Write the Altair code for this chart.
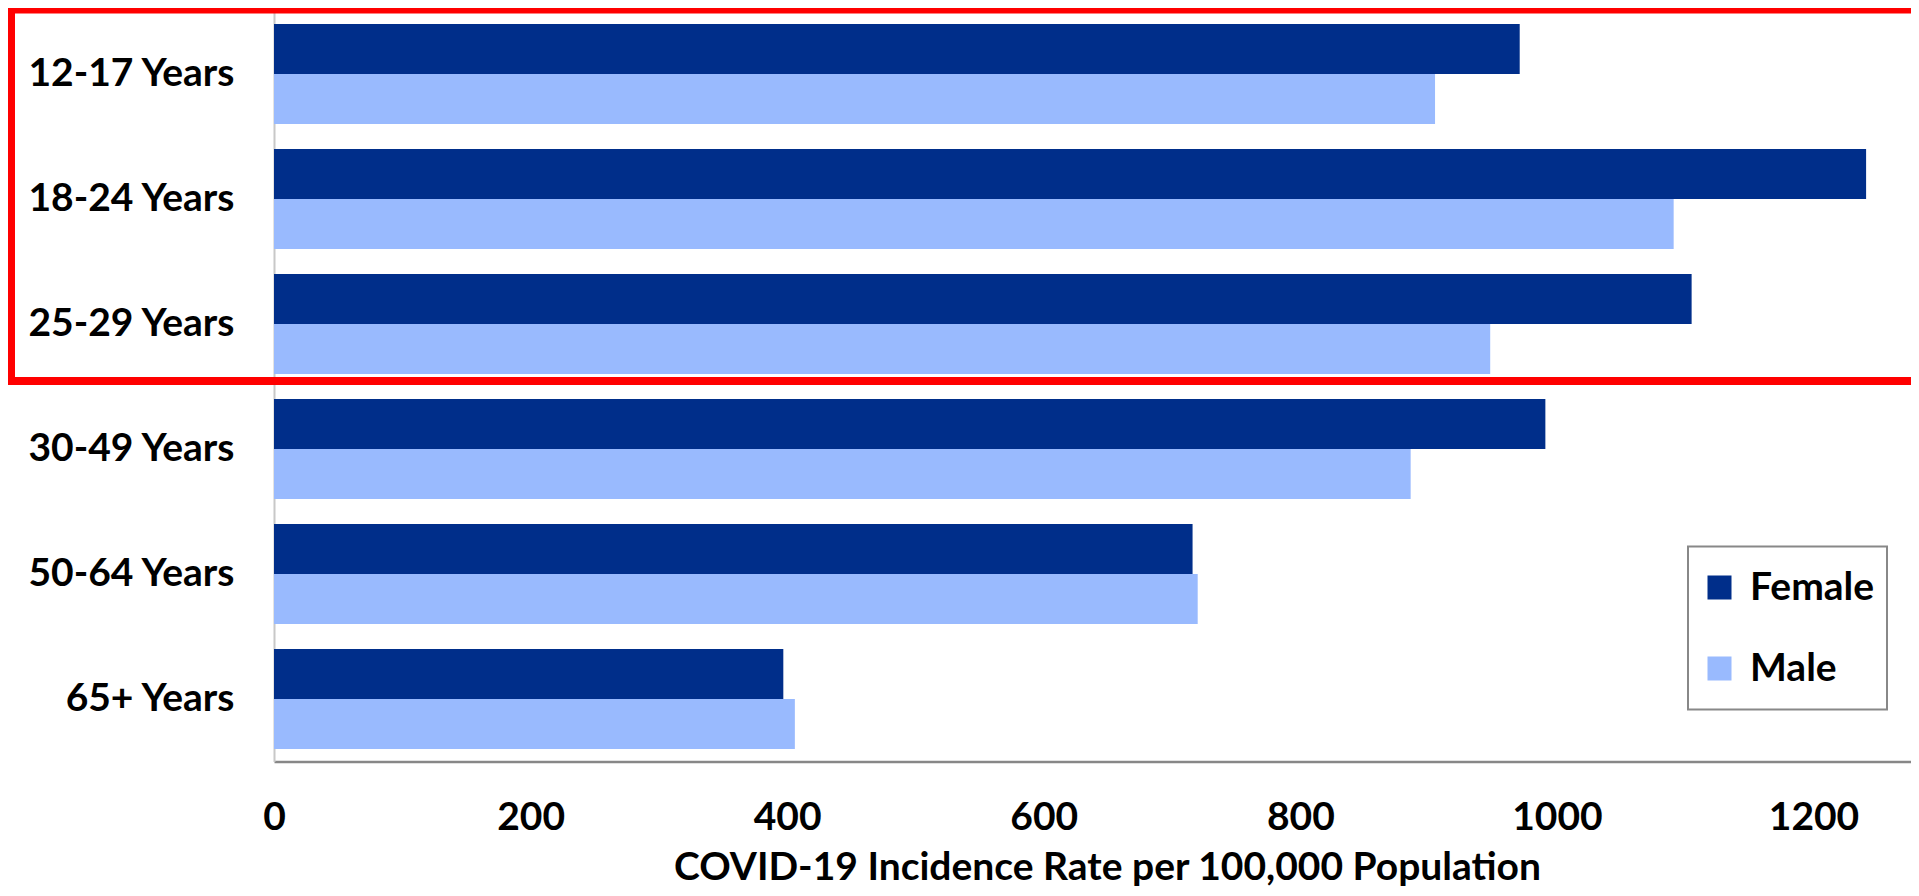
import altair as alt
import pandas as pd

# ---- data ----
age_groups = ["12-17 Years", "18-24 Years", "25-29 Years", "30-49 Years", "50-64 Years", "65+ Years"]
female_rates = [971, 1241, 1105, 991, 716, 397]
male_rates = [905, 1091, 948, 886, 720, 406]
sexes = ["Female", "Male"]
sex_colors = ["#002E8A", "#99BAFE"]
x_ticks = [0, 200, 400, 600, 800, 1000, 1200]

rows = []
for a, f, m in zip(age_groups, female_rates, male_rates):
    rows.append({"age": a, "sex": "Female", "rate": f})
    rows.append({"age": a, "sex": "Male", "rate": m})
df = pd.DataFrame(rows)

FONT = "Lato"
FS = 39

bars = alt.Chart(df).mark_bar().encode(
    y=alt.Y(
        "age:N",
        sort=age_groups,
        scale=alt.Scale(paddingInner=0.2, paddingOuter=0.1),
        axis=alt.Axis(
            title=None,
            labelFont=FONT,
            labelFontWeight="bold",
            labelFontSize=FS,
            labelColor="black",
            labelPadding=40,
            labelLimit=400,
            ticks=False,
            domainColor="#c8c8c8",
            domainWidth=2,
            grid=False,
        ),
    ),
    yOffset=alt.YOffset("sex:N", sort=sexes, scale=alt.Scale(paddingInner=0, paddingOuter=0)),
    x=alt.X(
        "rate:Q",
        scale=alt.Scale(domain=[0, 1276], nice=False, zero=True),
        axis=alt.Axis(
            values=x_ticks,
            format="d",
            title="COVID-19 Incidence Rate per 100,000 Population",
            titleFont=FONT,
            titleFontWeight="bold",
            titleFontSize=FS,
            titleColor="black",
            titleX=833,
            titleY=118,
            titleAlign="center",
            titleBaseline="alphabetic",
            titleAnchor="start",
            labelFont=FONT,
            labelFontWeight="bold",
            labelFontSize=FS,
            labelColor="black",
            labelBaseline="alphabetic",
            labelPadding=68,
            labelFlush=False,
            labelOverlap=False,
            ticks=False,
            domainColor="#878787",
            domainWidth=2.5,
            grid=False,
        ),
    ),
    color=alt.Color(
        "sex:N",
        scale=alt.Scale(domain=sexes, range=sex_colors),
        legend=alt.Legend(
            title=None,
            orient="none",
            legendX=1414,
            legendY=535,
            direction="vertical",
            symbolType="square",
            symbolSize=576,
            symbolStrokeWidth=0,
            labelFont=FONT,
            labelFontWeight="bold",
            labelFontSize=FS,
            labelColor="black",
            labelOffset=11,
            clipHeight=58,
            rowPadding=23,
            padding=12,
            strokeColor="#888888",
            fillColor="white",
        ),
    ),
)

highlight = alt.Chart(pd.DataFrame({"k": [0]})).mark_rect(
    filled=False, stroke="#FF0000", strokeWidth=8, clip=False
).encode(
    x=alt.value(-263),
    x2=alt.value(1660),
    y=alt.value(-2),
    y2=alt.value(369.5),
)

chart = alt.layer(bars, highlight).properties(
    width=1637,
    height=750,
    autosize=alt.AutoSizeParams(type="none"),
    padding={"left": 266, "top": 3.5, "right": 0, "bottom": 126},
).configure_view(stroke=None).configure_legend(strokeWidth=2)

chart.save("out.html", embed_options={"renderer": "svg", "actions": False})
